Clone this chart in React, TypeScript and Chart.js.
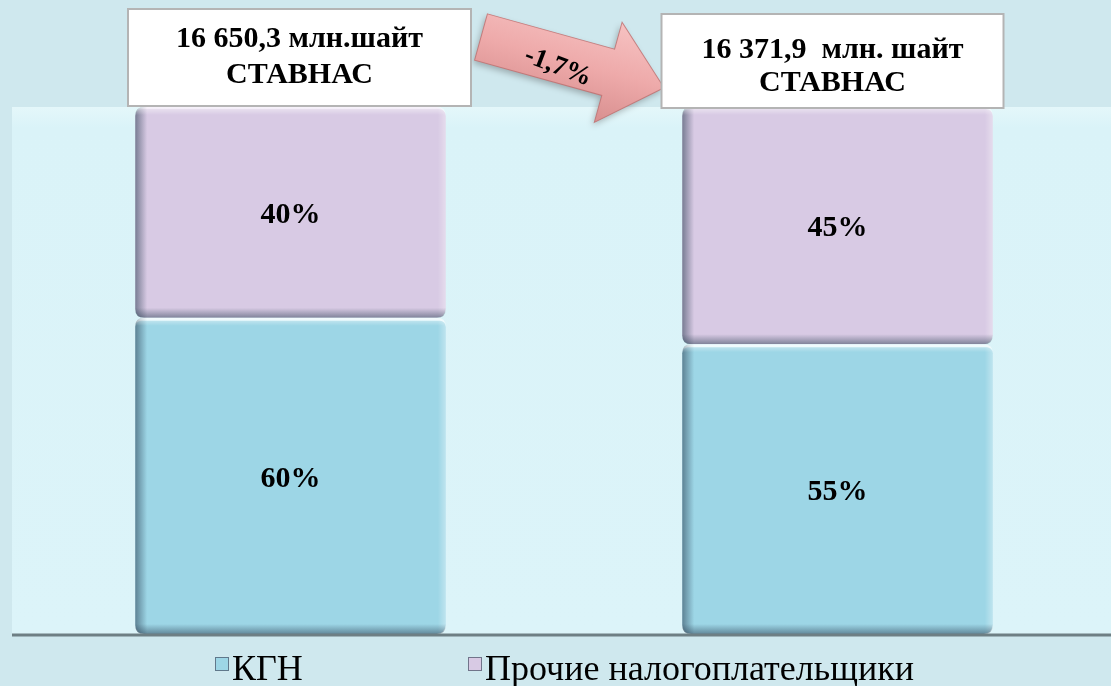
import React, { useEffect, useRef } from "react";
import { Chart, registerables } from "chart.js";

Chart.register(...registerables);

const categories = ["Период 1", "Период 2"];
const seriesNames = ["КГН", "Прочие налогоплательщики"];
const kgnValues = [60, 55];
const otherValues = [40, 45];
const totalLabels = ["16 650,3 млн.шайт", "16 371,9  млн. шайт"];
const totalSubLabel = "СТАВНАС";
const changeLabel = "-1,7%";

const BLUE = "#9dd6e6";
const PURPLE = "#d8cae4";
const SERIF = "'Liberation Serif', 'Times New Roman', serif";

function roundRectPath(ctx: any, x: number, y: number, w: number, h: number, r: number) {
  ctx.beginPath();
  ctx.moveTo(x + r, y);
  ctx.lineTo(x + w - r, y);
  ctx.quadraticCurveTo(x + w, y, x + w, y + r);
  ctx.lineTo(x + w, y + h - r);
  ctx.quadraticCurveTo(x + w, y + h, x + w - r, y + h);
  ctx.lineTo(x + r, y + h);
  ctx.quadraticCurveTo(x, y + h, x, y + h - r);
  ctx.lineTo(x, y + r);
  ctx.quadraticCurveTo(x, y, x + r, y);
  ctx.closePath();
}

const decorPlugin = {
  id: "decor",
  beforeDraw(chart: any) {
    const { ctx, width, height, chartArea } = chart;
    ctx.save();
    ctx.fillStyle = "#cfe8ee";
    ctx.fillRect(0, 0, width, height);
    const g = ctx.createLinearGradient(0, chartArea.top, 0, chartArea.bottom);
    g.addColorStop(0, "#e4f7fa");
    g.addColorStop(0.04, "#daf3f8");
    g.addColorStop(1, "#dcf4f9");
    ctx.fillStyle = g;
    ctx.fillRect(12, chartArea.top, width - 12, chartArea.bottom - chartArea.top);
    ctx.restore();
  },
  afterDatasetsDraw(chart: any) {
    const { ctx, chartArea, width } = chart;
    ctx.save();

    // 3D shading on bars
    chart.data.datasets.forEach((_ds: any, di: number) => {
      const meta = chart.getDatasetMeta(di);
      meta.data.forEach((el: any) => {
        const left = el.x - el.width / 2;
        const top = Math.min(el.y, el.base);
        const h = Math.abs(el.base - el.y);
        const w = el.width;
        ctx.save();
        roundRectPath(ctx, left, top, w, h, 9);
        ctx.clip();
        const lg = ctx.createLinearGradient(left, 0, left + 12, 0);
        lg.addColorStop(0, "rgba(40,60,80,0.55)");
        lg.addColorStop(1, "rgba(40,60,80,0)");
        ctx.fillStyle = lg;
        ctx.fillRect(left, top, 12, h);
        const rg = ctx.createLinearGradient(left + w - 8, 0, left + w, 0);
        rg.addColorStop(0, "rgba(255,255,255,0)");
        rg.addColorStop(1, "rgba(255,255,255,0.35)");
        ctx.fillStyle = rg;
        ctx.fillRect(left + w - 8, top, 8, h);
        const bg = ctx.createLinearGradient(0, top + h - 10, 0, top + h);
        bg.addColorStop(0, "rgba(40,60,80,0)");
        bg.addColorStop(1, "rgba(40,60,80,0.5)");
        ctx.fillStyle = bg;
        ctx.fillRect(left, top + h - 10, w, 10);
        const tg = ctx.createLinearGradient(0, top, 0, top + 8);
        tg.addColorStop(0, "rgba(255,255,255,0.55)");
        tg.addColorStop(1, "rgba(255,255,255,0)");
        ctx.fillStyle = tg;
        ctx.fillRect(left, top, w, 8);
        ctx.restore();
      });
    });

    // axis line
    ctx.strokeStyle = "#6e7f84";
    ctx.lineWidth = 3;
    ctx.beginPath();
    ctx.moveTo(12, chartArea.bottom + 1);
    ctx.lineTo(width, chartArea.bottom + 1);
    ctx.stroke();

    // value labels
    ctx.fillStyle = "#000";
    ctx.font = `bold 30px ${SERIF}`;
    ctx.textAlign = "center";
    ctx.textBaseline = "middle";
    const valueArrays = [kgnValues, otherValues];
    chart.data.datasets.forEach((_ds: any, di: number) => {
      const meta = chart.getDatasetMeta(di);
      meta.data.forEach((el: any, i: number) => {
        ctx.fillText(`${valueArrays[di][i]}%`, el.x, (el.y + el.base) / 2 + 3);
      });
    });

    // arrow
    const ax = 481, ay = 37, ang = (15.5 * Math.PI) / 180;
    const L = 190, hl = 58, sw = 24, hw = 52;
    ctx.save();
    ctx.translate(ax, ay);
    ctx.rotate(ang);
    ctx.shadowColor = "rgba(60,60,60,0.35)";
    ctx.shadowBlur = 6;
    ctx.shadowOffsetX = -2;
    ctx.shadowOffsetY = 3;
    const ag = ctx.createLinearGradient(0, -hw, 0, hw);
    ag.addColorStop(0, "#f6c2c2");
    ag.addColorStop(0.5, "#eeaaaa");
    ag.addColorStop(1, "#d88f8f");
    ctx.fillStyle = ag;
    ctx.beginPath();
    ctx.moveTo(0, -sw);
    ctx.lineTo(L - hl, -sw);
    ctx.lineTo(L - hl, -hw);
    ctx.lineTo(L, 0);
    ctx.lineTo(L - hl, hw);
    ctx.lineTo(L - hl, sw);
    ctx.lineTo(0, sw);
    ctx.closePath();
    ctx.fill();
    ctx.shadowColor = "transparent";
    ctx.strokeStyle = "rgba(190,110,110,0.8)";
    ctx.lineWidth = 1;
    ctx.stroke();
    ctx.restore();

    ctx.save();
    ctx.translate(558, 67);
    ctx.rotate((21 * Math.PI) / 180);
    ctx.fillStyle = "#000";
    ctx.font = `bold 27px ${SERIF}`;
    ctx.textAlign = "center";
    ctx.textBaseline = "middle";
    ctx.fillText(changeLabel, 0, 0);
    ctx.restore();

    // total boxes
    const meta0 = chart.getDatasetMeta(0);
    const boxes = [
      { dx: 9, top: 9, h: 97, w: 343, l1: 39, l2: 75 },
      { dx: -5, top: 14, h: 94, w: 342, l1: 50, l2: 83 },
    ];
    boxes.forEach((b, i) => {
      const el = meta0.data[i];
      const cx = el.x + b.dx;
      const left = cx - b.w / 2;
      ctx.save();
      ctx.fillStyle = "#ffffff";
      ctx.fillRect(left, b.top, b.w, b.h);
      ctx.strokeStyle = "#b4b4b4";
      ctx.lineWidth = 2;
      ctx.strokeRect(left, b.top, b.w, b.h);
      ctx.fillStyle = "#000";
      ctx.font = `bold 30px ${SERIF}`;
      ctx.textAlign = "center";
      ctx.textBaseline = "middle";
      ctx.fillText(totalLabels[i], cx, b.l1);
      ctx.fillText(totalSubLabel, cx, b.l2);
      ctx.restore();
    });

    // legend
    const legX = [215, 468];
    chart.data.datasets.forEach((ds: any, di: number) => {
      const x = legX[di];
      const y = 657;
      ctx.fillStyle = ds.backgroundColor;
      ctx.fillRect(x, y, 14, 14);
      ctx.strokeStyle = "rgba(70,80,100,0.7)";
      ctx.lineWidth = 1;
      ctx.strokeRect(x + 0.5, y + 0.5, 13, 13);
      ctx.fillStyle = "#000";
      ctx.font = `36px ${SERIF}`;
      ctx.textAlign = "left";
      ctx.textBaseline = "alphabetic";
      ctx.fillText(ds.label, x + 17, 680);
    });
    ctx.restore();
  },
};

export default function App() {
  const ref = useRef<HTMLCanvasElement | null>(null);
  useEffect(() => {
    document.body.style.margin = "0";
    if (!ref.current) return;
    const kgnRanges = kgnValues.map((v) => [0, v]);
    const otherRanges = otherValues.map((v, i) => [kgnValues[i], kgnValues[i] + v]);
    const chart = new Chart(ref.current, {
      type: "bar",
      data: {
        labels: categories,
        datasets: [
          {
            label: seriesNames[0],
            data: kgnRanges as any,
            backgroundColor: BLUE,
            borderColor: "#e4f7fb",
            borderWidth: { top: 3, left: 0, right: 0, bottom: 0 },
            borderSkipped: false,
            borderRadius: 9,
          },
          {
            label: seriesNames[1],
            data: otherRanges as any,
            backgroundColor: PURPLE,
            borderColor: "#ece2f4",
            borderWidth: { top: 2, left: 0, right: 0, bottom: 0 },
            borderSkipped: false,
            borderRadius: 9,
          },
        ],
      },
      options: {
        responsive: false,
        animation: false,
        layout: { padding: { top: 107, left: 17, right: 0, bottom: 52 } },
        datasets: { bar: { categoryPercentage: 1, barPercentage: 0.568 } },
        scales: {
          x: { stacked: true, display: false },
          y: { stacked: false, display: false, min: 0, max: 100 },
        },
        plugins: {
          legend: { display: false },
          tooltip: { enabled: false },
        },
      },
      plugins: [decorPlugin],
    });
    return () => chart.destroy();
  }, []);
  return (
    <div style={{ width: 1111, height: 686 }}>
      <canvas ref={ref} width={1111} height={686} style={{ display: "block" }} />
    </div>
  );
}
